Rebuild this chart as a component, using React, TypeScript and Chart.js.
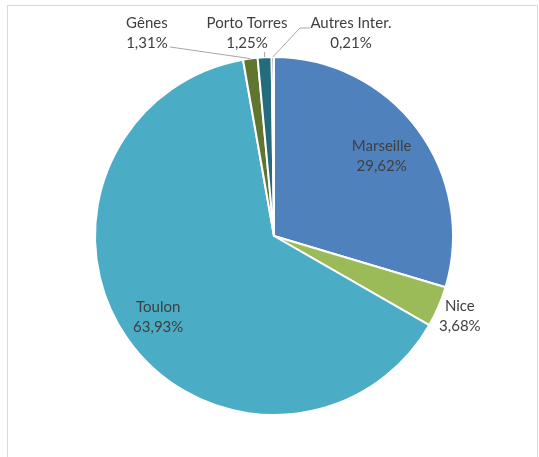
import React, { useEffect, useRef } from "react";
import { Chart, registerables } from "chart.js";

Chart.register(...registerables);

const categories = ["Marseille", "Nice", "Toulon", "Gênes", "Porto Torres", "Autres Inter."];
const shares = [29.62, 3.68, 63.93, 1.31, 1.25, 0.21];
const shareLabels = ["29,62%", "3,68%", "63,93%", "1,31%", "1,25%", "0,21%"];
const colors = ["#4F81BD", "#9BBB59", "#4BACC6", "#5F7530", "#246B7E", "#2F4D71"];

type Layout = {
  mode: "radial" | "fixed";
  f?: number;
  dx?: number;
  dy?: number;
  leader?: Array<[number | null, number]>;
};

// label placement, in units of the pie radius relative to its centre
const labelLayout: Layout[] = [
  { mode: "radial", f: 0.75 },
  { mode: "radial", f: 1.13 },
  { mode: "radial", f: 0.79 },
  { mode: "fixed", dx: -0.71, dy: -1.134, leader: [[-0.581, -1.056]] },
  { mode: "fixed", dx: -0.151, dy: -1.134, leader: [[null, -1.028]] },
  { mode: "fixed", dx: 0.43, dy: -1.134, leader: [[0.145, -1.162], [0.2, -1.162]] },
];

const FONT = "15px Lato, 'Open Sans', sans-serif";

const labelPlugin = {
  id: "pieLabels",
  afterDatasetsDraw(chart: any) {
    const meta = chart.getDatasetMeta(0);
    const ctx = chart.ctx as CanvasRenderingContext2D;
    ctx.save();
    meta.data.forEach((arc: any, i: number) => {
      const { x, y, startAngle, endAngle, outerRadius } = arc.getProps(
        ["x", "y", "startAngle", "endAngle", "outerRadius"],
        true
      );
      const mid = (startAngle + endAngle) / 2;
      const r = outerRadius;
      const lay = labelLayout[i];
      let lx: number, ly: number;
      if (lay.mode === "radial") {
        lx = x + Math.cos(mid) * r * (lay.f as number);
        ly = y + Math.sin(mid) * r * (lay.f as number);
      } else {
        lx = x + (lay.dx as number) * r;
        ly = y + (lay.dy as number) * r;
        if (lay.leader) {
          const ex = x + Math.cos(mid) * r;
          const ey = y + Math.sin(mid) * r;
          ctx.beginPath();
          ctx.strokeStyle = "#A6A6A6";
          ctx.lineWidth = 1;
          ctx.moveTo(ex, ey);
          lay.leader.forEach(([px, py]) => {
            ctx.lineTo(px === null ? ex : x + px * r, y + py * r);
          });
          ctx.stroke();
        }
      }
      ctx.fillStyle = "#404040";
      ctx.font = FONT;
      ctx.textAlign = "center";
      ctx.textBaseline = "middle";
      ctx.fillText(categories[i], lx, ly - 10);
      ctx.fillText(shareLabels[i], lx, ly + 10);
    });
    ctx.restore();
  },
};

export default function App() {
  const ref = useRef<HTMLCanvasElement | null>(null);
  useEffect(() => {
    if (!ref.current) return;
    const chart = new Chart(ref.current, {
      type: "pie",
      data: {
        labels: categories,
        datasets: [
          {
            data: shares,
            backgroundColor: colors,
            borderColor: "#FFFFFF",
            borderWidth: 2,
          },
        ],
      },
      options: {
        animation: false,
        responsive: false,
        maintainAspectRatio: false,
        layout: { padding: { top: 56, bottom: 41, left: 94, right: 85 } },
        plugins: {
          legend: { display: false },
          tooltip: { enabled: false },
          title: { display: false },
        },
      },
      plugins: [labelPlugin],
    });
    return () => chart.destroy();
  }, []);
  return (
    <div style={{ position: "absolute", left: 0, top: 0, width: 539, height: 457, overflow: "hidden", background: "#fff" }}>
      <div
        style={{
          position: "absolute",
          left: 7,
          top: 5,
          width: 529,
          height: 470,
          border: "1px solid #D9D9D9",
        }}
      />
      <canvas ref={ref} width={539} height={457} style={{ position: "absolute", left: 0, top: 0 }} />
    </div>
  );
}
